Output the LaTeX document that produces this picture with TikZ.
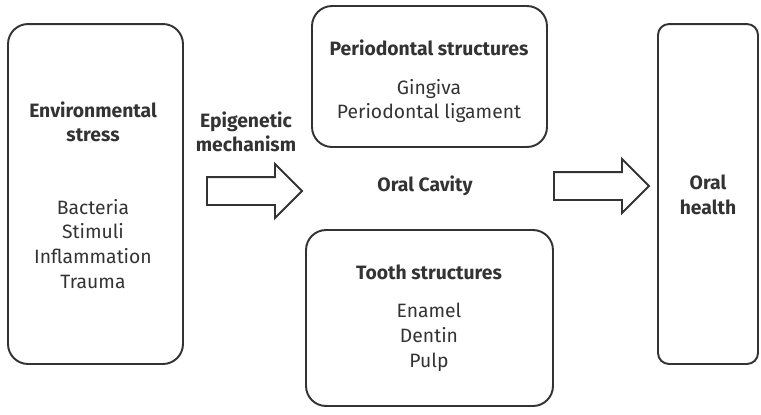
\documentclass[tikz,border=0pt]{standalone}
\usepackage{fontspec}
\setmainfont{Fira Sans}
\usepackage{tikz}
\usetikzlibrary{shapes.arrows}
\definecolor{ink}{HTML}{333333}

\tikzset{
  roundbox/.style={draw=ink, line width=1.1pt, rounded corners=0.4cm, inner sep=0pt},
  bigarrow/.style={draw=ink, line width=1.1pt, shape=single arrow, inner xsep=0pt, inner ysep=0.26cm,
    single arrow head extend=0.26cm, minimum height=1.9cm, anchor=tail},
  head/.style={text=ink, font=\fontsize{11}{14}\selectfont\bfseries, align=center},
  items/.style={text=ink, font=\fontsize{11}{14.2}\selectfont, align=center}
}

\begin{document}
\begin{tikzpicture}[x=0.02cm, y=-0.02cm]
\useasboundingbox (0,0) rectangle (761,414);
% boxes
\node [roundbox, minimum width=3.5cm, minimum height=6.8cm] (env) at (95.5,194) {};
\node [roundbox, minimum width=4.7cm, minimum height=2.82cm] (perio) at (429.5,76.5) {};
\node [roundbox, minimum width=4.94cm, minimum height=3.52cm] (tooth) at (429.5,318) {};
\node [roundbox, rounded corners=0.22cm, minimum width=2cm, minimum height=6.8cm] (health) at (708,194) {};
% texts
\node [head] (envhead) at (93,122) {Environmental\\stress};
\node [items] (envlist) at (93,244) {Bacteria\\Stimuli\\Inflammation\\Trauma};
\node [head] (epi) at (246,132) {Epigenetic\\mechanism};
\node [head] (perhead) at (429,48) {Periodontal structures};
\node [items] (perlist) at (429,101) {Gingiva\\Periodontal ligament};
\node [head] (cavity) at (425,186) {Oral Cavity};
\node [head] (toohead) at (429,272) {Tooth structures};
\node [items] (toolist) at (429,337) {Enamel\\Dentin\\Pulp};
\node [head] (healthtxt) at (708,195) {Oral\\health};
% arrows
\node [bigarrow] (arrowa) at (206,191) {};
\node [bigarrow] (arrowb) at (553,186) {};
\end{tikzpicture}
\end{document}
